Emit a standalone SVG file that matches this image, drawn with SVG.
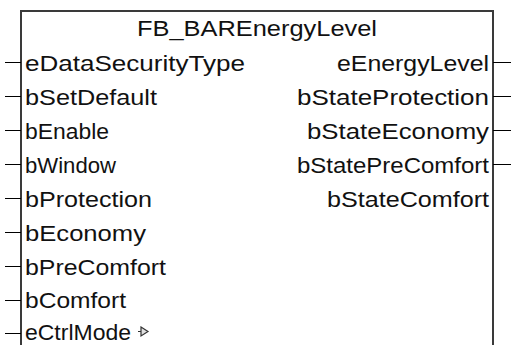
<svg xmlns="http://www.w3.org/2000/svg" width="513" height="345" viewBox="0 0 513 345">
<style>
  .box { fill: #ffffff; stroke: #3a3a3a; stroke-width: 2; }
  .pin { stroke: #000000; stroke-width: 1.2; fill: none; }
  text { font-family: "Liberation Sans", Arial, sans-serif; font-size: 22px; fill: #111111; }
  .r { text-anchor: end; }
  .t { text-anchor: middle; }
  .sym { stroke: #333333; stroke-width: 1.2; fill: #e0e0e0; }
</style>
<rect x="0" y="0" width="513" height="345" fill="#ffffff"/>
<g id="block">
  <path class="box" d="M21,346 V11 H493 V346"/>
  <text class="t" x="257" y="36" textLength="240" lengthAdjust="spacingAndGlyphs">FB_BAREnergyLevel</text>
</g>
<g id="inputs">
  <text x="25" y="71" textLength="220" lengthAdjust="spacingAndGlyphs">eDataSecurityType</text>
  <text x="25" y="105" textLength="132" lengthAdjust="spacingAndGlyphs">bSetDefault</text>
  <text x="25" y="139" textLength="84" lengthAdjust="spacingAndGlyphs">bEnable</text>
  <text x="25" y="173" textLength="91" lengthAdjust="spacingAndGlyphs">bWindow</text>
  <text x="25" y="207" textLength="127" lengthAdjust="spacingAndGlyphs">bProtection</text>
  <text x="25" y="241" textLength="121" lengthAdjust="spacingAndGlyphs">bEconomy</text>
  <text x="25" y="275" textLength="141" lengthAdjust="spacingAndGlyphs">bPreComfort</text>
  <text x="25" y="308" textLength="101" lengthAdjust="spacingAndGlyphs">bComfort</text>
  <text x="25" y="340" textLength="106" lengthAdjust="spacingAndGlyphs">eCtrlMode</text>
  <path class="sym" d="M138,331.5 H141 M141,327 L148,331.5 L141,336 Z"/>
</g>
<g id="outputs">
  <text class="r" x="489" y="71" textLength="152" lengthAdjust="spacingAndGlyphs">eEnergyLevel</text>
  <text class="r" x="489" y="105" textLength="192" lengthAdjust="spacingAndGlyphs">bStateProtection</text>
  <text class="r" x="489" y="139" textLength="182" lengthAdjust="spacingAndGlyphs">bStateEconomy</text>
  <text class="r" x="489" y="173" textLength="192" lengthAdjust="spacingAndGlyphs">bStatePreComfort</text>
  <text class="r" x="489" y="207" textLength="162" lengthAdjust="spacingAndGlyphs">bStateComfort</text>
</g>
<g id="connectors">
  <path class="pin" d="M5,62.5 H21 M5,96.5 H21 M5,130.5 H21 M5,164.5 H21 M5,198.5 H21 M5,232.5 H21 M5,266.5 H21 M5,300.5 H21 M5,333.5 H21"/>
  <path class="pin" d="M493,62.5 H511 M493,96.5 H511 M493,130.5 H511 M493,164.5 H511"/>
</g>
</svg>
